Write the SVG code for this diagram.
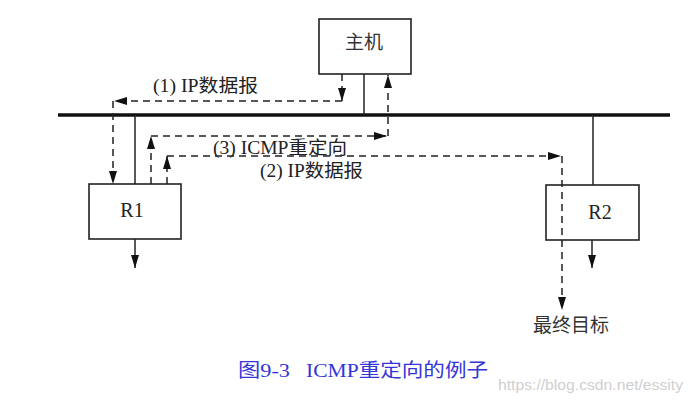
<svg xmlns="http://www.w3.org/2000/svg" width="692" height="404" viewBox="0 0 692 404">
<style>
.box{fill:none;stroke:#222;stroke-width:1.6}
.solid{stroke:#222;stroke-width:1.5;fill:none}
.bus{stroke:#111;stroke-width:3.5}
.dash{stroke:#222;stroke-width:1.5;fill:none;stroke-dasharray:7 5}
.cjk{font-family:"Liberation Serif","Noto Sans CJK SC",serif;fill:#333}
.lbl{font-family:"Liberation Serif","Noto Sans CJK SC",serif;font-size:18px;fill:#222}
.rt{font-family:"Liberation Serif","Noto Sans CJK SC",serif;font-size:20px;fill:#222}
.cap{font-family:"Liberation Serif","Noto Sans CJK SC",serif;font-size:19px;fill:#3535d8}
.wm{font-family:"Liberation Sans",sans-serif;font-size:14px;fill:#cfcfcf}
</style>
<defs>
<marker id="ah" viewBox="0 0 13 8" refX="13" refY="4" markerWidth="13" markerHeight="8" orient="auto" markerUnits="userSpaceOnUse">
<path d="M0,0 L13,4 L0,8 z" fill="#111"/>
</marker>
</defs>
<rect width="692" height="404" fill="#fff"/>
<g id="bus">
<line class="bus" x1="58" y1="115" x2="670" y2="115"/>
</g>
<g id="host">
<rect class="box" x="319" y="19" width="92" height="55"/>
<text class="cjk" x="364" y="49" font-size="19" text-anchor="middle">主机</text>
</g>
<g id="r1">
<rect class="box" x="89" y="184" width="92" height="55"/>
<text class="rt" x="132" y="217" text-anchor="middle">R1</text>
</g>
<g id="r2">
<rect class="box" x="546" y="185" width="93" height="55"/>
<text class="rt" x="600" y="219" text-anchor="middle">R2</text>
</g>
<g id="dest">
<text class="cjk" x="571" y="332" font-size="19" text-anchor="middle">最终目标</text>
</g>
<g id="connectors">
<line class="solid" x1="364" y1="74" x2="364" y2="115"/>
<line class="solid" x1="135" y1="115" x2="135" y2="184"/>
<line class="solid" x1="593" y1="115" x2="593" y2="185"/>
<line class="solid" x1="135" y1="239" x2="135" y2="268" marker-end="url(#ah)"/>
<line class="solid" x1="592" y1="240" x2="592" y2="268" marker-end="url(#ah)"/>
<!-- (1) -->
<line class="dash" x1="342" y1="74" x2="342" y2="101" marker-end="url(#ah)"/>
<line class="dash" x1="342" y1="101" x2="114" y2="101" marker-end="url(#ah)"/>
<line class="dash" x1="113" y1="101" x2="113" y2="184" marker-end="url(#ah)"/>
<!-- (3) -->
<line class="dash" x1="151" y1="184" x2="151" y2="136" marker-end="url(#ah)"/>
<line class="dash" x1="151" y1="136" x2="387" y2="136" marker-end="url(#ah)"/>
<line class="dash" x1="388" y1="136" x2="388" y2="75" marker-end="url(#ah)"/>
<!-- (2) -->
<line class="dash" x1="167" y1="184" x2="167" y2="156" marker-end="url(#ah)"/>
<line class="dash" x1="167" y1="156" x2="561" y2="156" marker-end="url(#ah)"/>
<line class="dash" x1="562" y1="156" x2="562" y2="310" marker-end="url(#ah)"/>
<text class="lbl" x="153" y="92" textLength="105" lengthAdjust="spacingAndGlyphs">(1) IP数据报</text>
<text class="lbl" x="213" y="154" textLength="134" lengthAdjust="spacingAndGlyphs">(3) ICMP重定向</text>
<text class="lbl" x="260" y="177" textLength="103" lengthAdjust="spacingAndGlyphs">(2) IP数据报</text>
</g>
<text class="cap" x="238" y="377" textLength="52" lengthAdjust="spacingAndGlyphs">图9-3</text>
<text class="cap" x="306" y="377" textLength="182" lengthAdjust="spacingAndGlyphs">ICMP重定向的例子</text>
<text class="wm" x="498" y="390" textLength="185" lengthAdjust="spacingAndGlyphs">https://blog.csdn.net/essity</text>
</svg>
